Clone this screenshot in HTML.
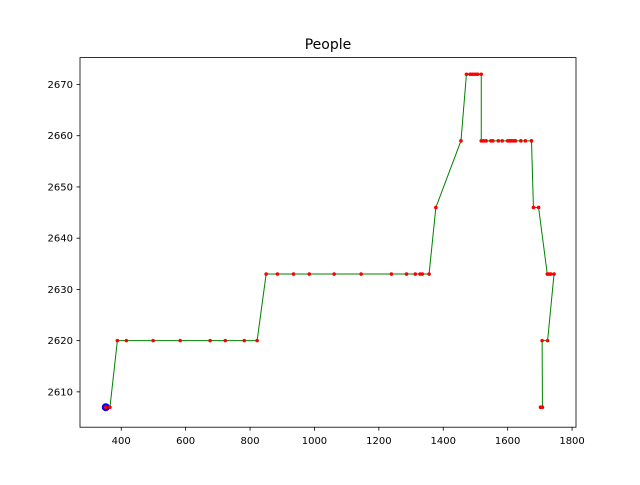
<!DOCTYPE html>
<html><head><meta charset="utf-8"><style>
body{margin:0;background:#fff;}
text{font-family:"DejaVu Sans","Liberation Sans",sans-serif;}
</style></head><body>
<svg id="chart" width="640" height="480" xmlns="http://www.w3.org/2000/svg"></svg>
<script>
const xValues=[352,365,388,416,499,583,676,723,782,822,850,885,935,984,1061,1145,1239,1286,1313,1328,1335,1356,1377,1455,1472,1483,1489,1495,1501,1507,1518,1518,1525,1533,1548,1554,1571,1583,1600,1606,1611,1618,1624,1641,1655,1674,1680,1696,1723,1728,1734,1744,1724,1707,1708,1702];
const yValues=[2607,2607,2620,2620,2620,2620,2620,2620,2620,2620,2633,2633,2633,2633,2633,2633,2633,2633,2633,2633,2633,2633,2646,2659,2672,2672,2672,2672,2672,2672,2672,2659,2659,2659,2659,2659,2659,2659,2659,2659,2659,2659,2659,2659,2659,2659,2646,2646,2633,2633,2633,2633,2620,2620,2607,2607];
const xTicks=[400,600,800,1000,1200,1400,1600,1800];
const yTicks=[2610,2620,2630,2640,2650,2660,2670];
const NS="http://www.w3.org/2000/svg";
const svg=document.getElementById('chart');
const L=80,R=576,T=57.6,B=427.2;
const xmn=Math.min(...xValues),xmx=Math.max(...xValues),ymn=Math.min(...yValues),ymx=Math.max(...yValues);
const x0=xmn-(xmx-xmn)*0.0575,x1=xmx+(xmx-xmn)*0.049,y0=ymn-(ymx-ymn)*0.06,y1=ymx+(ymx-ymn)*0.05;
const sx=v=>L+(v-x0)/(x1-x0)*(R-L);
const sy=v=>B-(v-y0)/(y1-y0)*(B-T);
function mk(tag,attrs){const e=document.createElementNS(NS,tag);for(const k in attrs)e.setAttribute(k,attrs[k]);svg.appendChild(e);return e;}
let t=mk('text',{x:328,y:49,'text-anchor':'middle','font-size':14});t.textContent='People';


xTicks.forEach(v=>{const x=sx(v);
 const l=mk('line',{x1:x,x2:x,y1:B,y2:B+3.5,stroke:'#000','stroke-width':0.8});
 
 
 const tx=mk('text',{x:x,y:B+17,'text-anchor':'middle','font-size':10});tx.textContent=v;
 
 });
yTicks.forEach(v=>{const y=sy(v);
 const l=mk('line',{x1:L-3.5,x2:L,y1:y,y2:y,stroke:'#000','stroke-width':0.8});
 
 
 const tx=mk('text',{x:L-7,y:y+3.5,'text-anchor':'end','font-size':10});tx.textContent=v;
 
 });
const pl=mk('polyline',{points:xValues.map((v,i)=>sx(v)+','+sy(yValues[i])).join(' '),fill:'none',stroke:'green','stroke-width':1});


const bp=mk('circle',{cx:sx(xValues[0]),cy:sy(yValues[0]),r:4,fill:'blue'});


xValues.forEach((v,i)=>{const c=mk('circle',{cx:sx(v),cy:sy(yValues[i]),r:1.8,fill:'red'});
 
 });
const fr=mk('rect',{x:L,y:T,width:R-L,height:B-T,fill:'none',stroke:'#000','stroke-width':0.8});


</script>
</body></html>
